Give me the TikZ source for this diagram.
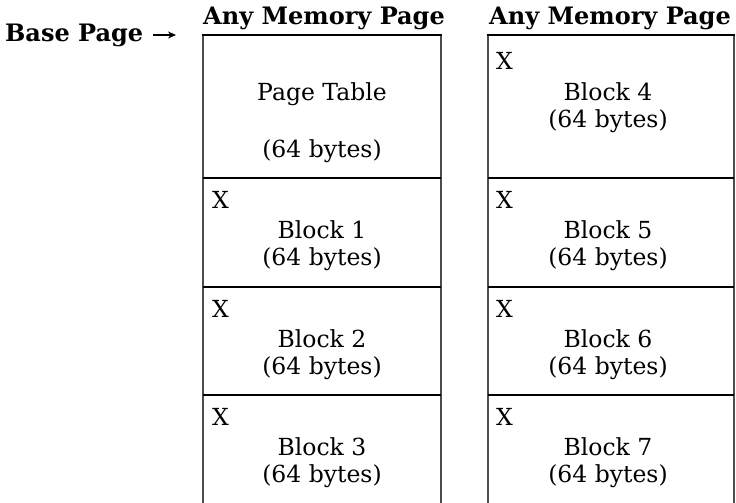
\documentclass[tikz,border=0pt]{standalone}
\usepackage{fontspec}
\setmainfont{DejaVu Serif}
\usetikzlibrary{arrows.meta}
\begin{document}
\begin{tikzpicture}[x=1pt,y=-1pt,
  txt/.style={font=\fontsize{23.5}{27}\selectfont, inner sep=0pt, anchor=base},
  xmark/.style={font=\fontsize{23.5}{27}\selectfont, inner sep=0pt, anchor=base west},
  head/.style={font=\fontsize{24}{28}\selectfont\bfseries, inner sep=0pt, anchor=base},
  side/.style={line width=1.3pt, draw=black!70},
  divider/.style={line width=1.8pt, draw=black},
  arr/.style={line width=1.6pt, -{Stealth[length=8pt,width=7pt]}}]
\useasboundingbox (0,0) rectangle (736,503);
% headings
\node[head, anchor=base west] (base) at (5,42) {Base Page};
\coordinate (tip) at (176,35);
\draw[arr] (base.east |- tip) ++(10,0) -- (tip);
\node[head] (h1) at (324,25) {Any Memory Page};
\node[head] (h2) at (610,25) {Any Memory Page};
% left column frame
\draw[side] (203,503) -- (203,35);
\draw[side] (441,35) -- (441,503);
\draw[divider] (202,35) -- (442,35);
\draw[divider] (203,178) -- (441,178);
\draw[divider] (203,287) -- (441,287);
\draw[divider] (203,395) -- (441,395);
% right column frame
\draw[side] (488,503) -- (488,35);
\draw[side] (734,35) -- (734,503);
\draw[divider] (487,35) -- (735,35);
\draw[divider] (488,178) -- (734,178);
\draw[divider] (488,287) -- (734,287);
\draw[divider] (488,395) -- (734,395);
% left column texts
\node[txt] (pt) at (322,100) {Page Table};
\node[txt] (pts) at (322,157) {(64 bytes)};
\node[xmark] (x1) at (212,208) {X};
\node[txt] (b1) at (322,238) {Block 1};
\node[txt] (b1s) at (322,265) {(64 bytes)};
\node[xmark] (x2) at (212,317) {X};
\node[txt] (b2) at (322,347) {Block 2};
\node[txt] (b2s) at (322,374) {(64 bytes)};
\node[xmark] (x3) at (212,425) {X};
\node[txt] (b3) at (322,455) {Block 3};
\node[txt] (b3s) at (322,482) {(64 bytes)};
% right column texts
\node[xmark] (x4) at (496,70) {X};
\node[txt] (b4) at (608,100) {Block 4};
\node[txt] (b4s) at (608,127) {(64 bytes)};
\node[xmark] (x5) at (496,208) {X};
\node[txt] (b5) at (608,238) {Block 5};
\node[txt] (b5s) at (608,265) {(64 bytes)};
\node[xmark] (x6) at (496,317) {X};
\node[txt] (b6) at (608,347) {Block 6};
\node[txt] (b6s) at (608,374) {(64 bytes)};
\node[xmark] (x7) at (496,425) {X};
\node[txt] (b7) at (608,455) {Block 7};
\node[txt] (b7s) at (608,482) {(64 bytes)};
\end{tikzpicture}
\end{document}
